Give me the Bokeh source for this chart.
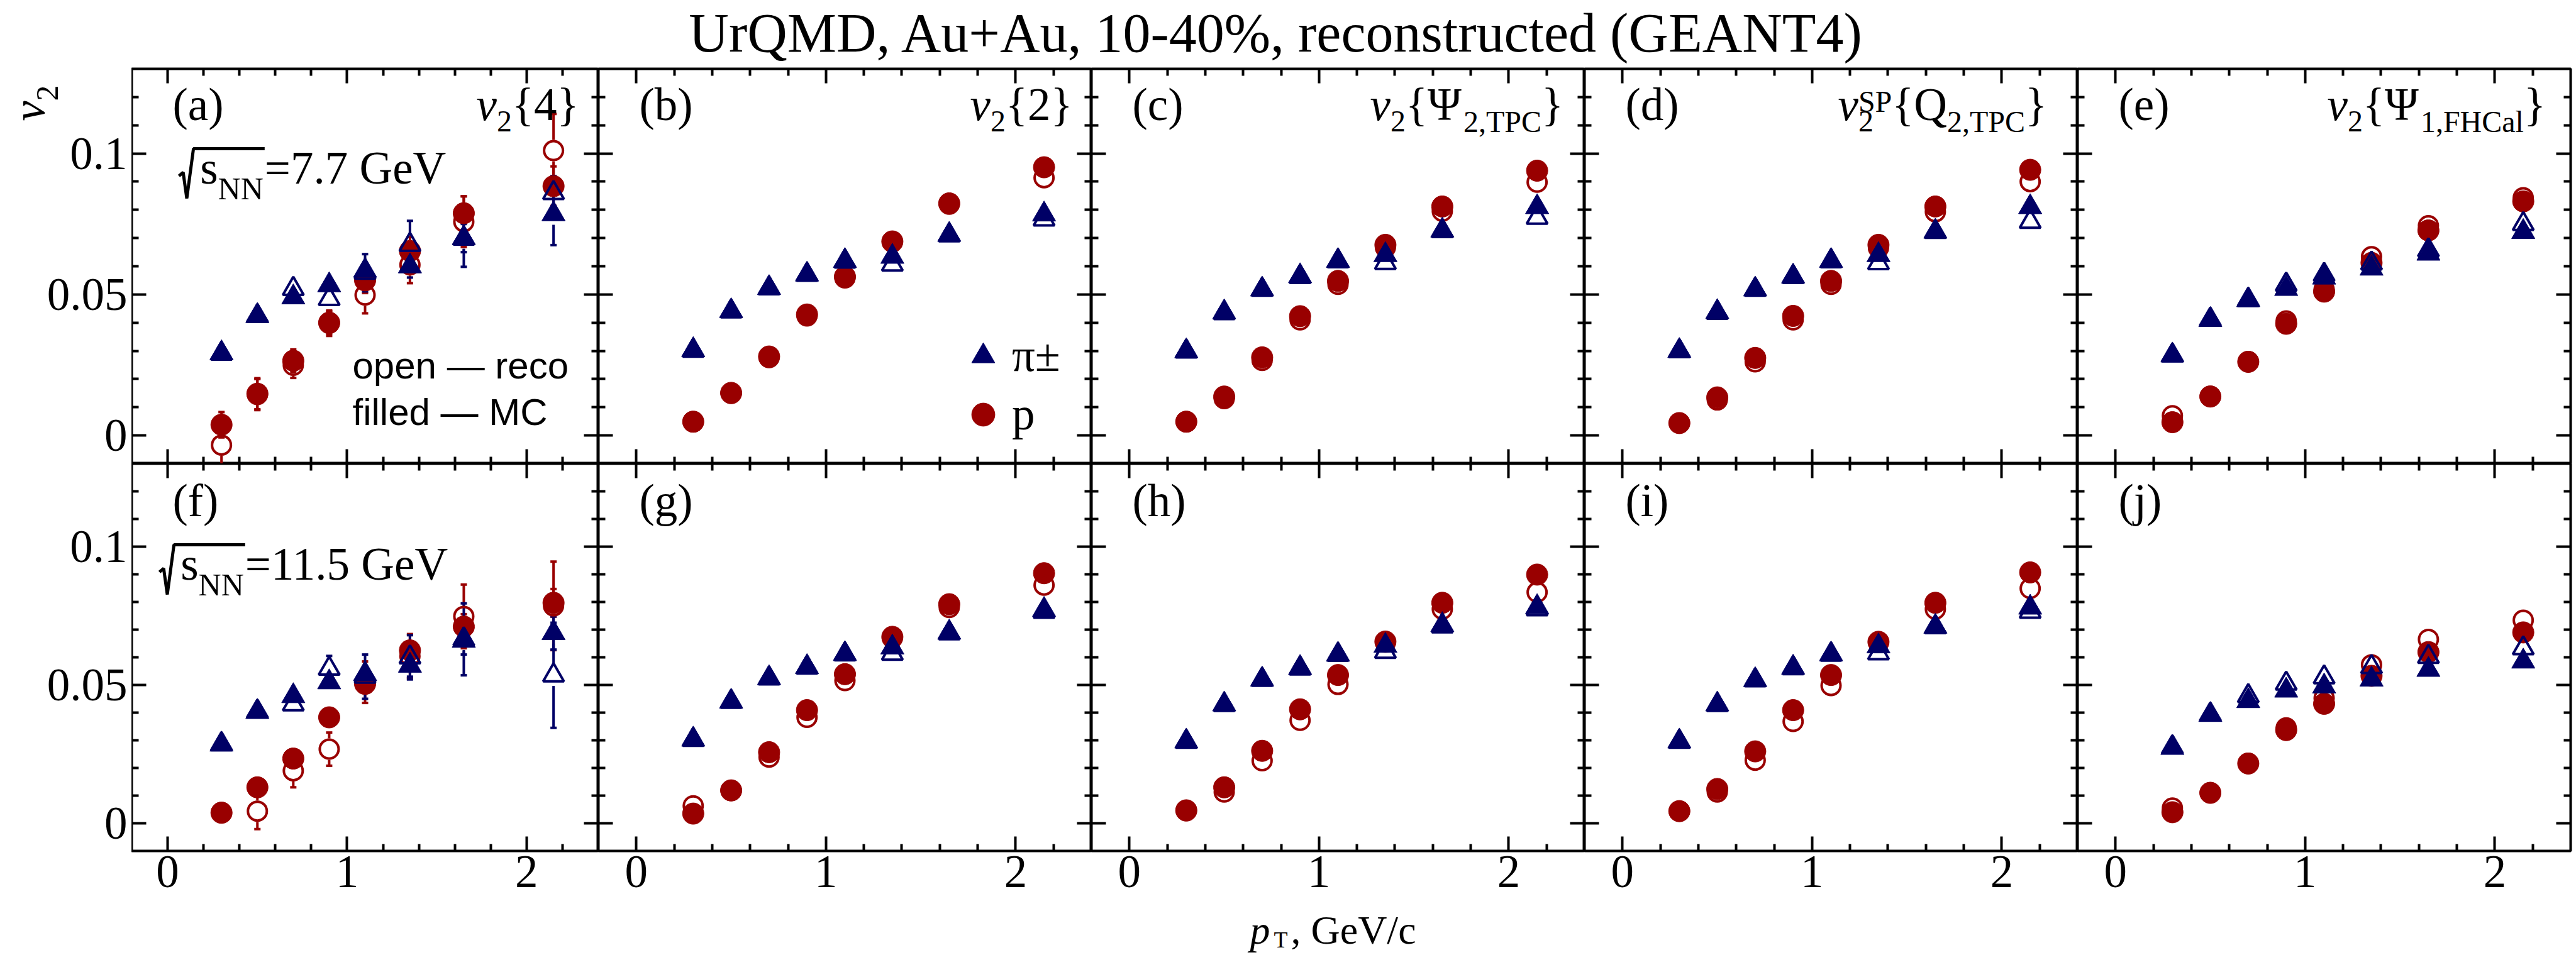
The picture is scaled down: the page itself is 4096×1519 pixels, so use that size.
import math
from bokeh.plotting import figure
from bokeh.models import (Range1d, LinearAxis, FixedTicker, Label,
                          ColumnDataSource, Whisker, TeeHead, Legend, LegendItem,
                          CustomJSTickFormatter)
from bokeh.layouts import row, column
from bokeh.embed import file_html
from bokeh.resources import INLINE

S = 0.963
BLUE = "#000066"
RED = "#990000"
SERIF = "Liberation Serif"
SANS = "Liberation Sans"

# ---------------- data ----------------
pT = [0.3, 0.5, 0.7, 0.9, 1.1, 1.35, 1.65, 2.15]

# sqrt(sNN) = 7.7 GeV
a_pi_mc   = [0.0292, 0.0424, 0.0490, 0.0533, 0.0585, 0.0600, 0.0700, 0.0785]
a_pi_reco = [0.0290, 0.0424, 0.0520, 0.0484, 0.0577, 0.0676, 0.0698, 0.0860]
a_p_mc    = [0.0038, 0.0148, 0.0265, 0.0400, 0.0550, 0.0654, 0.0788, 0.0884]
a_p_reco  = [-0.0034, 0.0145, 0.0249, 0.0398, 0.0498, 0.0605, 0.0758, 0.1010]
a_pi_mc_err   = [0.0010, 0.0012, 0.0015, 0.0020, 0.0030, 0.0040, 0.0050, 0.0110]
a_pi_reco_err = [0.0012, 0.0015, 0.0025, 0.0035, 0.0066, 0.0085, 0.0100, 0.0060]
a_p_mc_err    = [0.0045, 0.0055, 0.0040, 0.0040, 0.0045, 0.0050, 0.0060, 0.0070]
a_p_reco_err  = [0.0080, 0.0055, 0.0045, 0.0045, 0.0065, 0.0065, 0.0090, 0.0130]

b_pi_mc   = [0.0303, 0.0441, 0.0523, 0.0571, 0.0619, 0.0634, 0.0712, 0.0784]
b_pi_reco = [0.0301, 0.0440, 0.0522, 0.0570, 0.0617, 0.0606, 0.0710, 0.0766]
b_p_mc    = [0.0049, 0.0151, 0.0280, 0.0429, 0.0563, 0.0688, 0.0823, 0.0951]
b_p_reco  = [0.0048, 0.0149, 0.0276, 0.0424, 0.0559, 0.0686, 0.0820, 0.0914]

c_pi_mc   = [0.0299, 0.0437, 0.0518, 0.0565, 0.0619, 0.0640, 0.0727, 0.0810]
c_pi_reco = [0.0298, 0.0434, 0.0517, 0.0562, 0.0618, 0.0612, 0.0725, 0.0772]
c_p_mc    = [0.0049, 0.0138, 0.0277, 0.0423, 0.0548, 0.0676, 0.0812, 0.0939]
c_p_reco  = [0.0048, 0.0131, 0.0266, 0.0410, 0.0536, 0.0667, 0.0795, 0.0898]

d_pi_mc   = [0.0300, 0.0438, 0.0518, 0.0564, 0.0619, 0.0640, 0.0723, 0.0810]
d_pi_reco = [0.0299, 0.0435, 0.0517, 0.0562, 0.0618, 0.0611, 0.0722, 0.0758]
d_p_mc    = [0.0044, 0.0135, 0.0275, 0.0424, 0.0548, 0.0676, 0.0812, 0.0942]
d_p_reco  = [0.0044, 0.0126, 0.0261, 0.0410, 0.0536, 0.0665, 0.0793, 0.0900]

e_pi_mc   = [0.0284, 0.0410, 0.0480, 0.0520, 0.0560, 0.0592, 0.0645, 0.0722]
e_pi_reco = [0.0284, 0.0411, 0.0481, 0.0535, 0.0570, 0.0610, 0.0657, 0.0750]
e_p_mc    = [0.0047, 0.0138, 0.0261, 0.0396, 0.0510, 0.0612, 0.0727, 0.0830]
e_p_reco  = [0.0070, 0.0139, 0.0262, 0.0406, 0.0518, 0.0634, 0.0744, 0.0843]

err77_pi = [0.0005, 0.0006, 0.0007, 0.0008, 0.0010, 0.0012, 0.0016, 0.0030]
err77_p  = [0.0006, 0.0007, 0.0008, 0.0009, 0.0011, 0.0013, 0.0018, 0.0028]

# sqrt(sNN) = 11.5 GeV
f_pi_mc   = [0.0285, 0.0403, 0.0460, 0.0510, 0.0540, 0.0570, 0.0660, 0.0688]
f_pi_reco = [0.0286, 0.0404, 0.0430, 0.0559, 0.0530, 0.0600, 0.0665, 0.0535]
f_p_mc    = [0.0038, 0.0130, 0.0234, 0.0383, 0.0504, 0.0625, 0.0711, 0.0797]
f_p_reco  = [0.0039, 0.0044, 0.0190, 0.0268, 0.0510, 0.0604, 0.0748, 0.0786]
f_pi_mc_err   = [0.0010, 0.0012, 0.0015, 0.0020, 0.0030, 0.0040, 0.0050, 0.0060]
f_pi_reco_err = [0.0012, 0.0015, 0.0030, 0.0046, 0.0080, 0.0080, 0.0130, 0.0190]
f_p_mc_err    = [0.0010, 0.0015, 0.0020, 0.0025, 0.0030, 0.0035, 0.0045, 0.0050]
f_p_reco_err  = [0.0012, 0.0065, 0.0060, 0.0060, 0.0075, 0.0080, 0.0115, 0.0160]

g_pi_mc   = [0.0303, 0.0440, 0.0525, 0.0565, 0.0612, 0.0636, 0.0690, 0.0772]
g_pi_reco = [0.0302, 0.0439, 0.0524, 0.0563, 0.0611, 0.0613, 0.0687, 0.0765]
g_p_mc    = [0.0035, 0.0119, 0.0257, 0.0409, 0.0539, 0.0674, 0.0792, 0.0904]
g_p_reco  = [0.0063, 0.0118, 0.0239, 0.0383, 0.0516, 0.0670, 0.0780, 0.0861]

h_pi_mc   = [0.0296, 0.0430, 0.0520, 0.0562, 0.0610, 0.0642, 0.0717, 0.0782]
h_pi_reco = [0.0295, 0.0428, 0.0519, 0.0560, 0.0609, 0.0620, 0.0712, 0.0774]
h_p_mc    = [0.0046, 0.0130, 0.0262, 0.0412, 0.0536, 0.0657, 0.0797, 0.0899]
h_p_reco  = [0.0048, 0.0113, 0.0226, 0.0372, 0.0502, 0.0655, 0.0774, 0.0835]

i_pi_mc   = [0.0296, 0.0430, 0.0518, 0.0563, 0.0611, 0.0640, 0.0711, 0.0780]
i_pi_reco = [0.0295, 0.0428, 0.0517, 0.0561, 0.0610, 0.0615, 0.0709, 0.0765]
i_p_mc    = [0.0044, 0.0124, 0.0260, 0.0409, 0.0536, 0.0656, 0.0797, 0.0907]
i_p_reco  = [0.0044, 0.0113, 0.0228, 0.0368, 0.0498, 0.0654, 0.0774, 0.0849]

j_pi_mc   = [0.0273, 0.0392, 0.0442, 0.0480, 0.0495, 0.0520, 0.0555, 0.0585]
j_pi_reco = [0.0275, 0.0393, 0.0460, 0.0505, 0.0528, 0.0565, 0.0602, 0.0633]
j_p_mc    = [0.0040, 0.0110, 0.0216, 0.0337, 0.0432, 0.0533, 0.0619, 0.0690]
j_p_reco  = [0.0055, 0.0111, 0.0217, 0.0345, 0.0452, 0.0573, 0.0665, 0.0734]

err115_pi = [0.0005, 0.0006, 0.0007, 0.0008, 0.0010, 0.0012, 0.0017, 0.0035]
err115_p  = [0.0006, 0.0007, 0.0008, 0.0009, 0.0011, 0.0013, 0.0019, 0.0030]

# ticks and labels
x_major = [0, 1, 2]
x_minor = [0.2, 0.4, 0.6, 0.8, 1.2, 1.4, 1.6, 1.8, 2.2]
y_major = [0, 0.05, 0.1]
y_minor = [0.01, 0.02, 0.03, 0.04, 0.06, 0.07, 0.08, 0.09, 0.11, 0.12]
X0, X1 = -0.2, 2.4
Y0, Y1 = -0.01, 0.13

TITLE = "UrQMD, Au+Au, 10-40%, reconstructed (GEANT4)"
letters = ["(a)", "(b)", "(c)", "(d)", "(e)", "(f)", "(g)", "(h)", "(i)", "(j)"]
energy_text = ["=7.7 GeV", "=11.5 GeV"]
species_labels = ["\u03c0\u00b1", "p"]
note_lines = ["open \u2014 reco", "filled \u2014 MC"]

# ---------------- sizes (output px) ----------------
FS = 73
SUB = 48
DROP = 19
RAISE = 13
MS_C = 34
MS_CO = 30
MS_T = 37
MS_TO = 33
BOFF = 0.32   # label anchor is the text middle: baseline sits BOFF*size below it

REG = {' ': 250, '(': 333, ')': 333, ',': 250, '.': 250, '-': 333, '/': 278, '=': 564,
       '{': 480, '}': 480, 'A': 722, 'C': 667, 'D': 722, 'E': 611, 'F': 556, 'G': 722,
       'H': 722, 'M': 889, 'N': 722, 'P': 556, 'Q': 722, 'S': 556, 'T': 611, 'U': 722,
       'V': 722, 'a': 444, 'c': 444, 'e': 444, 'l': 278, 'p': 500, 's': 389, 'v': 500,
       '\u03a8': 780}
ITAL = {'v': 444, 'p': 500}


def tw(text, size, italic=False):
    tot = 0
    for ch in text:
        if italic and ch in ITAL:
            tot += ITAL[ch]
        else:
            tot += REG.get(ch, 500)
    return tot * size / 1000.0


class Geo:
    def __init__(self, w, h, xpx=False):
        self.w, self.h, self.xpx = w, h, xpx

    def x(self, px):
        return px if self.xpx else X0 + px * (X1 - X0) / self.w

    def y(self, py):
        return Y1 - py * (Y1 - Y0) / self.h


class PxGeo:
    def x(self, px):
        return px

    def y(self, py):
        return py


def put(p, g, text, px, py, size, italic=False, font=SERIF, angle=0.0, align="left"):
    # (px, py): start of the text baseline, py measured downward from the frame top
    if angle == 0.0:
        py = py - BOFF * size
    else:
        px = px - BOFF * size
    p.add_layout(Label(x=g.x(px), y=g.y(py), text=text, text_font=font,
                       text_font_size=f"{size}px",
                       text_font_style="italic" if italic else "normal",
                       text_align=align, text_baseline="middle",
                       text_color="black", angle=angle))


def rich(p, g, parts, px, py):
    cur = px
    for text, size, italic, shift, adv in parts:
        put(p, g, text, cur, py + shift, size, italic)
        if adv:
            cur += tw(text, size, italic)
    return cur


BLANK = CustomJSTickFormatter(code="return ''")


def style(ax, major, minor, show):
    ax.ticker = FixedTicker(ticks=major, minor_ticks=minor)
    ax.axis_line_color = None
    ax.major_tick_in = 23
    ax.major_tick_out = 0
    ax.minor_tick_in = 11
    ax.minor_tick_out = 0
    ax.major_tick_line_width = 4
    ax.minor_tick_line_width = 4
    ax.major_tick_line_color = "black"
    ax.minor_tick_line_color = "black"
    if show:
        ax.major_label_text_font = SERIF
        ax.major_label_text_font_size = f"{FS}px"
        ax.major_label_text_color = "black"
        ax.major_label_standoff = 8
    else:
        ax.formatter = BLANK
        ax.major_label_text_font_size = "0px"
        ax.major_label_standoff = 0


def make_panel(fw, fh, br, bt, bb, xlab):
    p = figure(title=None, frame_width=fw, frame_height=fh,
               x_range=Range1d(X0, X1), y_range=Range1d(Y0, Y1),
               min_border_left=0, min_border_right=br, min_border_top=bt, min_border_bottom=bb,
               toolbar_location=None, tools="", output_backend="svg")
    p.xgrid.visible = False
    p.ygrid.visible = False
    p.outline_line_color = "black"
    p.outline_line_width = 4
    p.outline_line_alpha = 1.0
    p.background_fill_color = "white"
    p.border_fill_color = "white"
    style(p.xaxis[0], x_major, x_minor, xlab)
    style(p.yaxis[0], y_major, y_minor, False)
    top = LinearAxis()
    style(top, x_major, x_minor, False)
    p.add_layout(top, "above")
    right = LinearAxis()
    style(right, y_major, y_minor, False)
    p.add_layout(right, "right")
    return p


def plain(p):
    p.xgrid.visible = False
    p.ygrid.visible = False
    p.outline_line_color = None
    p.background_fill_color = "white"
    p.border_fill_color = "white"
    return p


def strip(w, h):
    p = figure(title=None, frame_width=w, frame_height=h, x_range=Range1d(0, w), y_range=Range1d(h, 0),
               x_axis_type=None, y_axis_type=None, min_border=0, toolbar_location=None, tools="",
               output_backend="svg")
    return plain(p)


def ystrip(w, fh, bt, bb):
    # left margin sharing the panel's vertical scale; carries the y tick labels
    p = figure(title=None, frame_width=w, frame_height=fh, x_range=Range1d(0, w), y_range=Range1d(Y0, Y1),
               x_axis_type=None, y_axis_type=None, min_border_left=0, min_border_right=0,
               min_border_top=bt, min_border_bottom=bb, toolbar_location=None, tools="",
               output_backend="svg")
    plain(p)
    for v in y_major:
        p.add_layout(Label(x=w - 7, y=v, text=f"{v:g}", text_font=SERIF, text_font_size=f"{FS}px",
                           text_align="right", text_baseline="middle", text_color="black"))
    return p


def err_bars(p, y, err, col, r_d):
    ux, ulo, uhi, llo, lhi = [], [], [], [], []
    for xi, yi, ei in zip(pT, y, err):
        if ei > r_d:
            ux.append(xi)
            ulo.append(yi + r_d)
            uhi.append(yi + ei)
            llo.append(yi - ei)
            lhi.append(yi - r_d)
    if not ux:
        return
    su = ColumnDataSource(dict(x=ux, lo=ulo, hi=uhi))
    sl = ColumnDataSource(dict(x=ux, lo=llo, hi=lhi))
    p.add_layout(Whisker(source=su, base="x", lower="lo", upper="hi", dimension="height",
                         line_color=col, line_width=4,
                         upper_head=TeeHead(size=10, line_color=col, line_width=4),
                         lower_head=None))
    p.add_layout(Whisker(source=sl, base="x", lower="lo", upper="hi", dimension="height",
                         line_color=col, line_width=4,
                         lower_head=TeeHead(size=10, line_color=col, line_width=4),
                         upper_head=None))


def draw(p, g, pi_mc, pi_reco, p_mc, p_reco, e_pi_mc, e_pi_reco, e_p_mc, e_p_reco):
    r_d = 17 * (Y1 - Y0) / g.h
    err_bars(p, p_mc, e_p_mc, RED, r_d)
    err_bars(p, p_reco, e_p_reco, RED, r_d)
    err_bars(p, pi_mc, e_pi_mc, BLUE, r_d)
    err_bars(p, pi_reco, e_pi_reco, BLUE, r_d)
    r1 = p.scatter(pT, p_mc, marker="circle", size=MS_C, fill_color=RED, line_color=RED, line_width=1)
    p.scatter(pT, p_reco, marker="circle", size=MS_CO, fill_color=None, line_color=RED, line_width=4)
    r2 = p.scatter(pT, pi_mc, marker="triangle", size=MS_T, fill_color=BLUE, line_color=BLUE, line_width=1)
    p.scatter(pT, pi_reco, marker="triangle", size=MS_TO, fill_color=None, line_color=BLUE, line_width=4)
    return r2, r1


def sqrt_label(p, g, x0, base, text):
    sx = x0 + 35 * S
    put(p, g, "s", sx, base, FS)
    nx = sx + tw("s", FS)
    put(p, g, "NN", nx, base + 25, 50)
    ex = nx + tw("NN", 50) + 2
    put(p, g, text, ex, base, FS)
    pts = [(0, -11), (7, -17), (13, 26), (24, -56)]
    xs = [g.x(x0 + dx * S) for dx, dy in pts] + [g.x(ex)]
    ys = [g.y(base + dy * S) for dx, dy in pts] + [g.y(base - 56 * S)]
    p.line(xs, ys, line_width=5, line_color="black", line_join="bevel")


# ---------------- geometry ----------------
LW = 209
FW_A = 742
FW = 784
FH_TOP = 628
FH_BOT = 616
RB = 5
BOT_B = 89
TOTAL_W = LW + FW_A + 4 * FW + RB
TH = 107
XLAB_H = 1518 - TH - (2 + FH_TOP) - (FH_BOT + BOT_B)

top_data = [
    (a_pi_mc, a_pi_reco, a_p_mc, a_p_reco, a_pi_mc_err, a_pi_reco_err, a_p_mc_err, a_p_reco_err),
    (b_pi_mc, b_pi_reco, b_p_mc, b_p_reco, err77_pi, err77_pi, err77_p, err77_p),
    (c_pi_mc, c_pi_reco, c_p_mc, c_p_reco, err77_pi, err77_pi, err77_p, err77_p),
    (d_pi_mc, d_pi_reco, d_p_mc, d_p_reco, err77_pi, err77_pi, err77_p, err77_p),
    (e_pi_mc, e_pi_reco, e_p_mc, e_p_reco, err77_pi, err77_pi, err77_p, err77_p),
]
bot_data = [
    (f_pi_mc, f_pi_reco, f_p_mc, f_p_reco, f_pi_mc_err, f_pi_reco_err, f_p_mc_err, f_p_reco_err),
    (g_pi_mc, g_pi_reco, g_p_mc, g_p_reco, err115_pi, err115_pi, err115_p, err115_p),
    (h_pi_mc, h_pi_reco, h_p_mc, h_p_reco, err115_pi, err115_pi, err115_p, err115_p),
    (i_pi_mc, i_pi_reco, i_p_mc, i_p_reco, err115_pi, err115_pi, err115_p, err115_p),
    (j_pi_mc, j_pi_reco, j_p_mc, j_p_reco, err115_pi, err115_pi, err115_p, err115_p),
]

V = ("v", FS, True, 0, True)
S2 = ("2", SUB, False, DROP, True)
method_parts = [
    [V, S2, ("{4}", FS, False, 0, True)],
    [V, S2, ("{2}", FS, False, 0, True)],
    [V, S2, ("{\u03a8", FS, False, 0, True), ("2,TPC", SUB, False, DROP, True), ("}", FS, False, 0, True)],
    [V, ("2", SUB, False, DROP, False), ("SP", SUB, False, -RAISE, True), ("{Q", FS, False, 0, True),
     ("2,TPC", SUB, False, DROP, True), ("}", FS, False, 0, True)],
    [V, S2, ("{\u03a8", FS, False, 0, True), ("1,FHCal", SUB, False, DROP, True), ("}", FS, False, 0, True)],
]
method_x = [548, 591, 443, 403, 397]

# left margins (y tick labels + y-axis title)
ls_top = ystrip(LW, FH_TOP, 2, 0)
gl = Geo(LW, FH_TOP, xpx=True)
put(ls_top, gl, "v", 69, 83, 72, italic=True, angle=math.pi / 2)
put(ls_top, gl, "2", 69 + 22, 83 - tw("v", 72, True), 50, angle=math.pi / 2)
ls_bot = ystrip(LW, FH_BOT, 0, BOT_B)

top_figs = [ls_top]
bot_figs = [ls_bot]
for k in range(5):
    fw = FW_A if k == 0 else FW
    br = RB if k == 4 else 0
    # top row
    pt_ = make_panel(fw, FH_TOP, br, 2, 0, False)
    gt = Geo(fw, FH_TOP)
    rpi, rp = draw(pt_, gt, *top_data[k])
    put(pt_, gt, letters[k], 65, 80, FS)
    rich(pt_, gt, method_parts[k], method_x[k], 80)
    if k == 0:
        sqrt_label(pt_, gt, 75, 181, energy_text[0])
        put(pt_, gt, note_lines[0], 351, 491, 60, font=SANS)
        put(pt_, gt, note_lines[1], 351, 565, 60, font=SANS)
    if k == 1:
        leg = Legend(items=[LegendItem(label=species_labels[0], renderers=[rpi]),
                            LegendItem(label=species_labels[1], renderers=[rp])],
                     location=(566, 32), glyph_width=92, glyph_height=92, label_standoff=-47,
                     spacing=1, padding=0, margin=0, border_line_color=None,
                     background_fill_alpha=0.0, label_text_font=SERIF,
                     label_text_font_size=f"{FS}px", label_text_color="black")
        pt_.add_layout(leg)
    top_figs.append(pt_)

    # bottom row
    pb = make_panel(fw, FH_BOT, br, 0, BOT_B, True)
    gb = Geo(fw, FH_BOT)
    draw(pb, gb, *bot_data[k])
    put(pb, gb, letters[5 + k], 65, 82, FS)
    if k == 0:
        sqrt_label(pb, gb, 44, 183, energy_text[1])
    bot_figs.append(pb)

pg = PxGeo()

# title strip
tf = strip(TOTAL_W, TH)
put(tf, pg, TITLE, 2030, 80, 88, align="center")

# x-axis title strip
xf = strip(TOTAL_W, XLAB_H)
put(xf, pg, "p", 1987, 57, 64, italic=True)
put(xf, pg, "T", 2025, 64, 36)
put(xf, pg, ", GeV/c", 2052, 57, 64)

layout = column(tf, row(*top_figs), row(*bot_figs), xf)

open("out.html", "w").write(file_html(layout, INLINE))
